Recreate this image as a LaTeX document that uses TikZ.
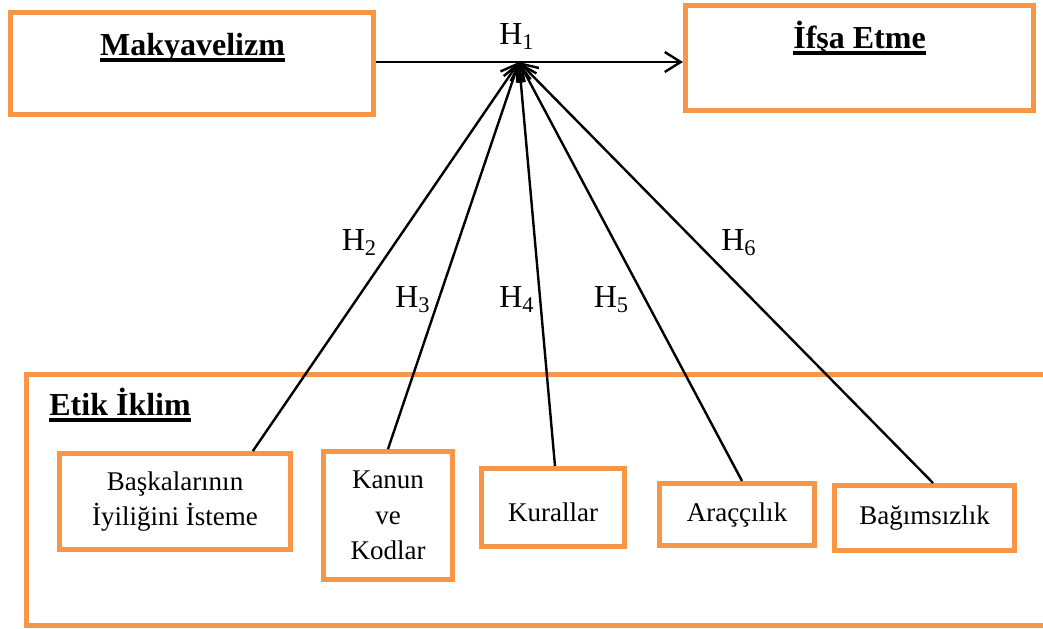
\documentclass[tikz,border=0pt]{standalone}
\usepackage{fontspec}
\setmainfont{Liberation Serif}
\usetikzlibrary{arrows.meta,calc}
\definecolor{boxorange}{HTML}{F79646}
\newcommand{\bigtxt}{\fontsize{16}{19}\selectfont}
\newcommand{\boxtxt}{\fontsize{13.5}{17.7}\selectfont}
% thick underline, drawn through the descenders
\newcommand{\thickul}[1]{\setbox0\hbox{#1}\rlap{\vrule width\wd0 height-1.5pt depth3.3pt}\box0}

\begin{document}
\begin{tikzpicture}[x=0.5pt,y=-0.5pt,
  >={Straight Barb[length=8pt,width=10pt]},
  orangebox/.style={draw=boxorange,line width=2.5pt,inner sep=0pt},
  title/.style={font=\bigtxt\bfseries,anchor=base,inner sep=0pt},
  factor/.style={orangebox,font=\boxtxt,align=center},
  hyp/.style={font=\bigtxt,anchor=base,inner sep=0pt},
  link/.style={line width=1.2pt}]
\useasboundingbox (0,0) rectangle (1043,628);
% independent and dependent variable
  \node[orangebox,minimum width=181.25pt,minimum height=51pt]  (mak)  at (191.75,63.5) {};
  \node[title] (makt) at (192.5,55) {\thickul{Makyavelizm}};
  \node[orangebox,minimum width=174pt,minimum height=52.5pt]   (ifsa) at (859.5,58) {};
  \node[title] (ifsat) at (859.5,48) {\thickul{İfşa Etme}};
  \coordinate (hub) at (519,62);
  \draw[link,->] (mak.east |- hub) -- (ifsa.west |- hub);
  \node[hyp] (h1) at (517,44) {H\textsubscript{1}};
% moderator: ethical climate (box runs off the right edge)
\begin{scope}
  \clip (0,0) rectangle (1043,628);
  \node[orangebox,minimum width=521.75pt,minimum height=125.25pt] (etik) at (548.25,499.75) {};
\end{scope}
  \node[title,anchor=base west] (etikt) at (49,415) {\thickul{Etik İklim}};
  \node[factor,minimum width=115.5pt,minimum height=48pt] (b1) at (175,501.5) {Başkalarının\\İyiliğini İsteme};
  \node[factor,minimum width=64.5pt,minimum height=64pt]  (b2) at (388,515.5) {Kanun\\ve\\Kodlar};
  \node[factor,minimum width=71.5pt,minimum height=39pt,text height=14.5pt] (b3) at (553,507.5) {Kurallar};
  \node[factor,minimum width=77.5pt,minimum height=31pt]  (b4) at (737,514.5) {Araççılık};
  \node[factor,minimum width=90pt,minimum height=32.5pt]  (b5) at (924.5,518) {Bağımsızlık};
% hypotheses H2--H6
  \draw[link,->] ($(b1.north west)!0.83!(b1.north east)$) -- (hub);
  \draw[link,->] (b2.north) -- (hub);
  \draw[link,->] ($(b3.north)+(2,0)$) -- (hub);
  \draw[link,->] ($(b4.north)+(5,0)$) -- (hub);
  \draw[link,->] ($(b5.north)+(8.5,0)$) -- (hub);
  \node[hyp] (h2) at (359.5,250) {H\textsubscript{2}};
  \node[hyp] (h3) at (413,307)   {H\textsubscript{3}};
  \node[hyp] (h4) at (517,307)   {H\textsubscript{4}};
  \node[hyp] (h5) at (611.5,307) {H\textsubscript{5}};
  \node[hyp] (h6) at (739,250)   {H\textsubscript{6}};
\end{tikzpicture}
\end{document}
